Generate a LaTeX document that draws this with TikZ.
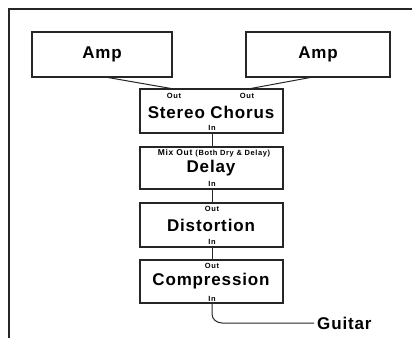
\documentclass[tikz,border=0pt]{standalone}
\usepackage{fontspec}
\setmainfont{Liberation Sans}
\newfontfamily\bigfam[LetterSpace=5]{Liberation Sans}
\newfontfamily\smallfam[LetterSpace=8]{Liberation Sans}
\begin{document}
\begin{tikzpicture}[x=1pt,y=-1pt,
  box/.style={draw=black!85,line width=1.1pt},
  wire/.style={draw=black!85,line width=1pt},
  big/.style={font=\bigfam\fontsize{17}{18}\selectfont\bfseries,inner sep=0pt},
  small/.style={font=\smallfam\fontsize{7.5}{8}\selectfont\bfseries,inner sep=0pt}]
\useasboundingbox (0,0) rectangle (412,338);
\draw[line width=1.3pt,black!85] (412,9) -- (9,9) -- (9,338);
% boxes
\draw[box] (32,32) rectangle (172,77);
\draw[box] (246,32) rectangle (390,77);
\draw[box] (140,89) rectangle (283,133);
\draw[box] (140,147) rectangle (283,189);
\draw[box] (140,203) rectangle (283,247);
\draw[box] (140,260) rectangle (283,303);
% coordinates
\coordinate (ampLb) at (105,77);
\coordinate (ampRb) at (313,77);
\coordinate (chL) at (174,89);
\coordinate (chR) at (248,89);
\coordinate (chB) at (212,133);
\coordinate (deT) at (212,147);
\coordinate (deB) at (212,189);
\coordinate (diT) at (212,203);
\coordinate (diB) at (212,247);
\coordinate (coT) at (212,260);
\coordinate (coB) at (212,303);
\coordinate (gEnd) at (314,323);
% texts
\node[big] (amp1) at (102,54) {Amp};
\node[big] (amp2) at (318,54) {Amp};
\node[small] (o1) at (174,96) {Out};
\node[small] (o2) at (247,96) {Out};
\node[big] (sc) at (211,112) {Stereo Chorus};
\node[small] (i1) at (212,128) {In};
\node[inner sep=0pt] (mo) at (214,153) {\smallfam\bfseries\fontsize{8.5}{9}\selectfont Mix Out \fontsize{7.5}{8}\selectfont(Both Dry \& Delay)};
\node[big] (de) at (211,168) {Delay};
\node[small] (i2) at (212,184) {In};
\node[small] (o3) at (212,209) {Out};
\node[big] (di) at (211,225) {Distortion};
\node[small] (i3) at (212,242) {In};
\node[small] (o4) at (212,266) {Out};
\node[big] (co) at (211,281) {Compression};
\node[small] (i4) at (212,299) {In};
\node[big,anchor=west] (gt) at (317,323) {Guitar};
% wires
\draw[wire] (ampLb) -- (chL);
\draw[wire] (ampRb) -- (chR);
\draw[wire] (chB) -- (deT);
\draw[wire] (deB) -- (diT);
\draw[wire] (diB) -- (coT);
\draw[wire] (coB) -- (212,314) to[out=-90,in=180] (222,323) -- (gEnd);
\end{tikzpicture}
\end{document}
